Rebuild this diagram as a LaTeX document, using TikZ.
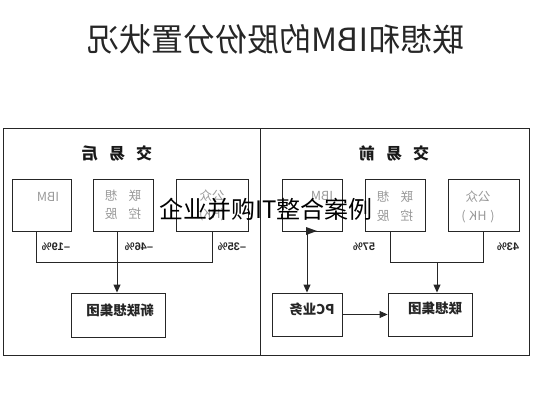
\documentclass[tikz,border=0pt]{standalone}
\usepackage{fontspec}
\usepackage{graphicx}
\setmainfont{Liberation Sans}
\newfontfamily\cjk{Noto Sans CJK SC}
\usetikzlibrary{arrows.meta}
\newcommand\mirr[1]{\reflectbox{#1}}
\tikzset{
  frame/.style={draw=black!85, line width=0.9pt},
  box/.style={draw=black!85, line width=0.9pt, inner sep=0pt},
  conn/.style={draw=black!85, line width=0.9pt},
  arr/.style={conn, -{Triangle[length=8pt,width=7pt]}},
  hdr/.style={font=\cjk\bfseries\fontsize{16pt}{18pt}\selectfont, text=black!90, inner sep=0pt},
  gtxt/.style={font=\cjk\fontsize{12.5pt}{14pt}\selectfont, text=black!40, inner sep=0pt},
  btxt/.style={font=\cjk\bfseries\fontsize{13.5pt}{15pt}\selectfont, text=black!85, inner sep=0pt},
  pct/.style={font=\bfseries\fontsize{11pt}{13pt}\selectfont, text=black!85, inner sep=0pt},
}
\begin{document}
\begin{tikzpicture}[x=1pt,y=-1pt]
\useasboundingbox (0,0) rectangle (533,400);
\fill[white] (0,0) rectangle (533,400);
% title
\node[font=\cjk\fontsize{32pt}{35pt}\selectfont, text=black!85, inner sep=0pt] (title) at (276,39) {\mirr{联想和IBM的股份分置状况}};
% panels
\node[frame, minimum width=257pt, minimum height=227pt, inner sep=0pt] (panelA) at (131.5,241.5) {};
\node[frame, minimum width=269pt, minimum height=227pt, inner sep=0pt] (panelB) at (394.5,241.5) {};
\node[hdr] (hdrA) at (117,153) {\mirr{交\hspace{0.7em}易\hspace{0.7em}后}};
\node[hdr] (hdrB) at (394,153) {\mirr{交\hspace{0.7em}易\hspace{0.7em}前}};
% left panel boxes
\node[box, minimum width=59pt, minimum height=52pt] (ibmA) at (41.5,205) {};
\node[box, minimum width=60pt, minimum height=52pt] (lxkgA) at (123,205) {};
\node[box, minimum width=72pt, minimum height=52pt] (gzA) at (212,205) {};
\node[gtxt] (ibmAt) at (48,197) {\mirr{IBM}};
\node[gtxt] (lxkgAt1) at (123,196) {\mirr{联\hspace{0.9em}想}};
\node[gtxt] (lxkgAt2) at (123,214) {\mirr{控\hspace{0.9em}股}};
\node[gtxt] (gzAt1) at (212,196) {\mirr{公众}};
\node[gtxt] (gzAt2) at (212,215) {\mirr{(HK)}};
\node[box, minimum width=94pt, minimum height=44pt] (xlxA) at (118.5,315) {};
\node[btxt] (xlxAt) at (120,310) {\mirr{新联想集团}};
% left connectors
\coordinate (jA1) at (36,262);
\coordinate (jA2) at (117,262);
\coordinate (jA3) at (212,262);
\draw[conn] (ibmA.south -| jA1) -- (jA1) -- (jA3) -- (gzA.south -| jA3);
\draw[arr] (lxkgA.south -| jA2) -- (xlxA.north -| jA2);
\node[pct] (pA1) at (56,247) {\mirr{--19\%}};
\node[pct] (pA2) at (139,247) {\mirr{--46\%}};
\node[pct] (pA3) at (232,247) {\mirr{--35\%}};
% right panel boxes
\node[box, minimum width=60pt, minimum height=52pt] (ibmB) at (312,205) {};
\node[box, minimum width=60pt, minimum height=52pt] (lxkgB) at (395,205) {};
\node[box, minimum width=71pt, minimum height=52pt] (gzB) at (483.5,205) {};
\node[gtxt] (ibmBt) at (322,196) {\mirr{IBM}};
\node[gtxt] (lxkgBt1) at (395,197) {\mirr{联\hspace{0.9em}想}};
\node[gtxt] (lxkgBt2) at (395,216) {\mirr{控\hspace{0.9em}股}};
\node[gtxt] (gzBt1) at (478,197) {\mirr{公众}};
\node[gtxt] (gzBt2) at (478,217) {\mirr{(\hspace{0.3em}HK\hspace{0.3em})}};
\node[box, minimum width=70pt, minimum height=43pt] (pcB) at (307,314.5) {};
\node[btxt] (pcBt) at (312,309) {\mirr{PC业务}};
\node[box, minimum width=84pt, minimum height=43pt] (lxjtB) at (430,314.5) {};
\node[btxt] (lxjtBt) at (435,308) {\mirr{联想集团}};
% right connectors
\coordinate (jB1) at (307,262);
\coordinate (jB2) at (390,262);
\coordinate (jB3) at (437,262);
\coordinate (jB4) at (483,262);
\draw[arr] (ibmB.south -| jB1) -- (pcB.north -| jB1);
\fill[black!85] (306,227) -- (317,231) -- (306,235) -- cycle;
\draw[conn] (lxkgB.south -| jB2) -- (jB2) -- (jB4) -- (gzB.south -| jB4);
\draw[arr] (jB3) -- (lxjtB.north -| jB3);
\draw[arr] (pcB.east) -- (lxjtB.west);
\node[pct] (pB1) at (364,247) {\mirr{57\%}};
\node[pct] (pB2) at (508,247) {\mirr{43\%}};
% watermark
\node[font=\cjk\fontsize{24pt}{26pt}\selectfont, text=black, inner sep=0pt] (wm) at (266,209) {企业并购IT整合案例};
\end{tikzpicture}
\end{document}
